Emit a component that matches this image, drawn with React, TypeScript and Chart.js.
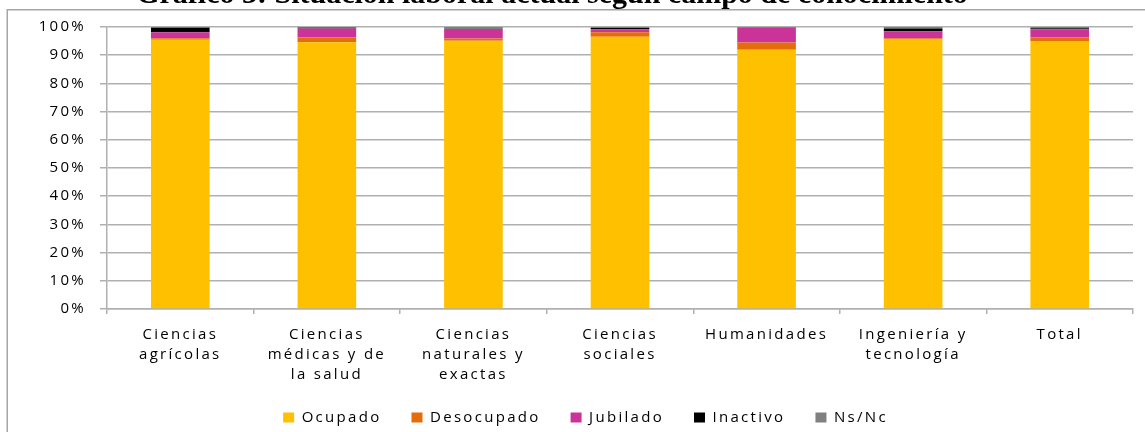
import React, { useEffect, useRef } from "react";
import { Chart, registerables } from "chart.js";

Chart.register(...registerables);

const chartTitle = "Gráfico 3: Situación laboral actual según campo de conocimiento";

const categories: string[][] = [
  ["Ciencias", "agrícolas"],
  ["Ciencias", "médicas y de", "la salud"],
  ["Ciencias", "naturales y", "exactas"],
  ["Ciencias", "sociales"],
  ["Humanidades"],
  ["Ingeniería y", "tecnología"],
  ["Total"],
];

const ocupado = [95.5, 94.6, 95.1, 96.5, 91.9, 95.6, 95.0];
const desocupado = [0.5, 1.7, 0.8, 1.6, 2.6, 0.4, 1.3];
const jubilado = [2.1, 3.2, 3.4, 1.1, 5.4, 2.5, 2.9];
const inactivo = [1.6, 0.2, 0.0, 0.45, 0.0, 1.0, 0.4];
const nsnc = [0.3, 0.3, 0.7, 0.35, 0.1, 0.5, 0.4];

const seriesNames = ["Ocupado", "Desocupado", "Jubilado", "Inactivo", "Ns/Nc"];
const seriesColors = ["#FFC000", "#E46C0A", "#CC3399", "#000000", "#808080"];
const seriesValues = [ocupado, desocupado, jubilado, inactivo, nsnc];

const yMin = 0;
const yMax = 100;
const yStep = 10;

const LETTER_SPACING = "2.3px";
const GRID = "#b0b0b0";
const labelFont = { family: "'Open Sans', sans-serif", size: 15 };

const decorPlugin = {
  id: "decor",
  beforeLayout(chart: any) {
    chart.ctx.letterSpacing = LETTER_SPACING;
  },
  beforeDraw(chart: any) {
    const ctx = chart.ctx;
    ctx.letterSpacing = LETTER_SPACING;
    ctx.save();
    ctx.fillStyle = "#ffffff";
    ctx.fillRect(0, 0, chart.width, chart.height);
    ctx.strokeStyle = "#a6a6a6";
    ctx.lineWidth = 1.5;
    ctx.strokeRect(7.25, 9.75, 1400, 800);
    ctx.restore();
  },
  afterDraw(chart: any) {
    const ctx = chart.ctx;
    ctx.save();
    ctx.letterSpacing = "0px";
    ctx.font = "bold 30px 'Liberation Serif', serif";
    ctx.fillStyle = "#000000";
    ctx.textAlign = "center";
    ctx.textBaseline = "alphabetic";
    ctx.fillText(chartTitle, 552, 3);
    ctx.restore();
  },
};

export default function App() {
  const canvasRef = useRef<HTMLCanvasElement | null>(null);

  useEffect(() => {
    if (!canvasRef.current) return;
    const chart = new Chart(canvasRef.current, {
      type: "bar",
      data: {
        labels: categories,
        datasets: seriesNames.map((name, i) => ({
          label: name,
          data: seriesValues[i],
          backgroundColor: seriesColors[i],
          borderWidth: 0,
          barPercentage: 0.4,
          categoryPercentage: 1.0,
        })),
      },
      options: {
        responsive: false,
        animation: false,
        devicePixelRatio: 1,
        layout: { padding: { left: 38, right: 12, top: 27, bottom: -3 } },
        plugins: {
          legend: {
            position: "bottom",
            labels: {
              boxWidth: 11,
              boxHeight: 10,
              padding: 30,
              color: "#000000",
              font: labelFont,
            },
          },
          tooltip: { enabled: false },
          title: { display: false },
        },
        scales: {
          x: {
            stacked: true,
            grid: {
              display: true,
              drawOnChartArea: false,
              drawTicks: true,
              tickLength: 5,
              color: GRID,
              lineWidth: 1.5,
              offset: true,
            },
            border: { color: GRID, width: 1.5 },
            ticks: {
              color: "#000000",
              font: { ...labelFont, lineHeight: 20 / 15 },
              padding: 11,
              maxRotation: 0,
              autoSkip: false,
            },
            afterFit: (s: any) => {
              s.height = 71;
            },
          },
          y: {
            stacked: true,
            min: yMin,
            max: yMax,
            ticks: {
              stepSize: yStep,
              callback: (v: any) => v + "%",
              padding: 14,
              color: "#000000",
              font: labelFont,
            },
            grid: {
              color: GRID,
              lineWidth: 1.5,
              tickLength: 7,
              drawTicks: true,
            },
            border: { color: GRID, width: 1.5 },
            afterFit: (s: any) => {
              s.width = 69;
            },
          },
        },
      },
      plugins: [decorPlugin],
    });
    return () => chart.destroy();
  }, []);

  return (
    <div style={{ position: "fixed", left: 0, top: 0, width: 1145, height: 432, background: "#fff" }}>
      <canvas ref={canvasRef} width={1145} height={432} style={{ width: 1145, height: 432, display: "block" }} />
    </div>
  );
}
